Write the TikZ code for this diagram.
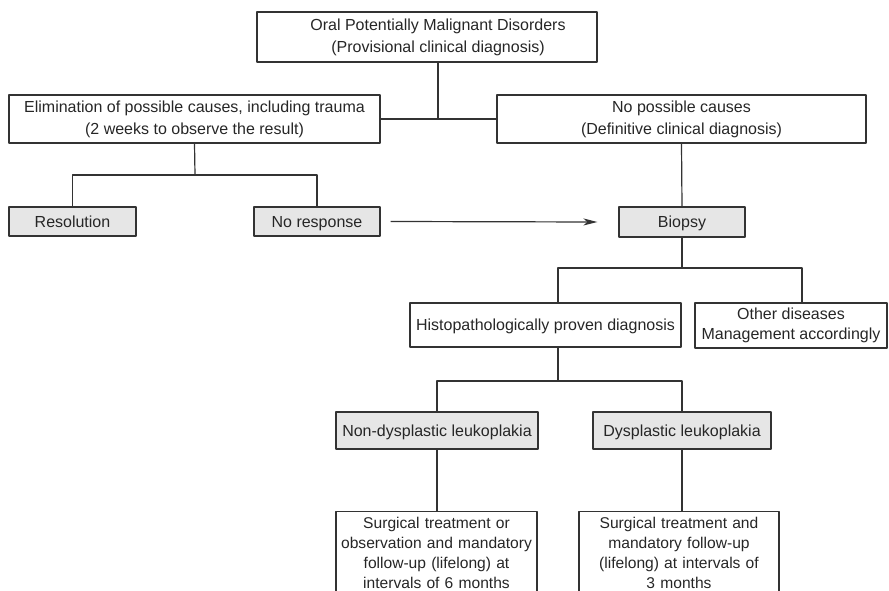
\documentclass[tikz,border=0pt]{standalone}
\usepackage{fontspec}
\setmainfont{Liberation Sans}
\usetikzlibrary{arrows.meta}
\definecolor{linegray}{HTML}{333333}
\definecolor{boxgray}{HTML}{E6E6E6}
\begin{document}
\begin{tikzpicture}[x=1bp,y=-1bp,>={Stealth[length=14bp,width=7bp,inset=4bp]},line join=round,
	font=\fontsize{16bp}{20bp}\selectfont,
	conn/.style={draw=linegray,line width=1.2bp},
	box/.style={draw=linegray,line width=1.2bp,align=center,inner sep=0pt,text=black!85,
		execute at begin node={\rule{0pt}{17bp}}},
	onebox/.style={box,text height=11.5bp,text depth=0pt},
	graybox/.style={onebox,fill=boxgray},
	notebox/.style={draw=linegray,line width=1.2bp,anchor=north,align=center,inner xsep=0pt,inner ysep=6bp,text=black!85,
		font=\fontsize{15.6bp}{19.8bp}\selectfont}]
			\useasboundingbox (0,0) rectangle (889,591);
			\clip (0,0) rectangle (889,591);
			\node[box,minimum width=340bp,minimum height=50bp] (top) at (427,37) {\hspace*{22bp}Oral Potentially Malignant Disorders\\[2bp]\hspace*{22bp}(Provisional clinical diagnosis)};
			\node[box,minimum width=371bp,minimum height=48bp] (elim) at (194.5,119) {Elimination of possible causes, including trauma\\[2bp](2 weeks to observe the result)};
			\node[box,minimum width=369bp,minimum height=48bp] (nocause) at (681.5,119) {No possible causes\\[2bp](Definitive clinical diagnosis)};
			\node[graybox,minimum width=127bp,minimum height=29bp] (resol) at (72.5,221.5) {Resolution};
			\node[graybox,minimum width=126bp,minimum height=29bp] (noresp) at (317,221.5) {No response};
			\node[graybox,minimum width=126bp,minimum height=30bp] (biopsy) at (682,222) {Biopsy};
			\node[onebox,minimum width=271bp,minimum height=44bp] (histo) at (545.5,325) {Histopathologically proven diagnosis};
			\node[box,minimum width=192bp,minimum height=45bp] (other) at (791,325.5) {Other diseases\\Management accordingly};
			\node[graybox,minimum width=202bp,minimum height=37bp] (nondys) at (437,430.5) {Non-dysplastic leukoplakia};
			\node[graybox,minimum width=178bp,minimum height=37bp] (dys) at (682,430.5) {Dysplastic leukoplakia};
			\node[notebox,text width=201bp] (surgA) at (436.5,511) {Surgical treatment or\\observation and mandatory\\follow-up (lifelong) at\\intervals of 6 months};
			\node[notebox,text width=200bp] (surgB) at (679,511) {Surgical treatment and\\mandatory follow-up\\(lifelong) at intervals of\\3 months};
			\coordinate (j1) at (438,119);
			\coordinate (j2) at (195,175);
			\coordinate (j3) at (682,268);
			\coordinate (j4) at (558,381);
			\draw[conn] (top.south -| j1)--(j1);
			\draw[conn] (elim.east)--(nocause.west);
			\draw[conn] (elim.south)--(j2);
			\draw[conn] (resol.north) |- (j2) -| (noresp.north);
			\draw[conn,->] ([xshift=10bp]noresp.east)--([xshift=-21bp]biopsy.west);
			\draw[conn] (nocause.south)--(biopsy.north);
			\draw[conn] (biopsy.south)--(j3);
			\draw[conn] ([xshift=12.5bp]histo.north) |- (j3) -| ([xshift=11bp]other.north);
			\draw[conn] (j4 |- histo.south)--(j4);
			\draw[conn] (nondys.north) |- (j4) -| (dys.north);
			\draw[conn] (nondys.south)--(nondys.south |- surgA.north);
			\draw[conn] (dys.south)--(dys.south |- surgB.north);
		\end{tikzpicture}
\end{document}
